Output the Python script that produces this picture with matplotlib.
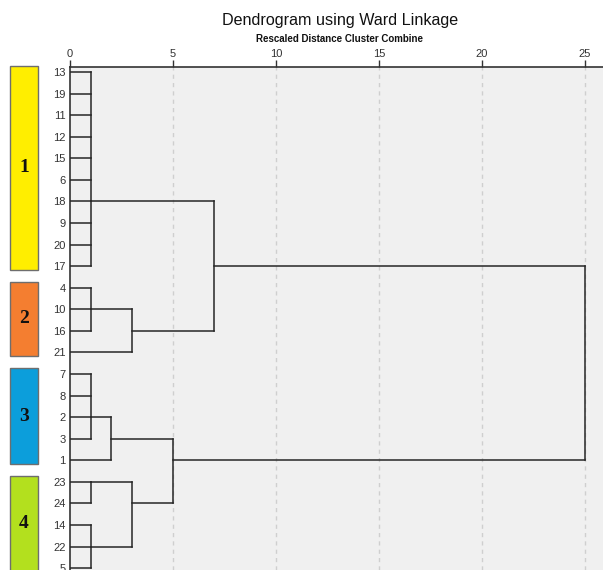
import matplotlib
matplotlib.use("Agg")
import matplotlib.pyplot as plt
from matplotlib.patches import Rectangle

plt.rcParams['font.family'] = ['Liberation Sans', 'DejaVu Sans']

# Leaf order as listed down the dendrogram
leaves = ["13", "19", "11", "12", "15", "6", "18", "9", "20", "17",
          "4", "10", "16", "21",
          "7", "8", "2", "3", "1",
          "23", "24", "14", "22", "5"]

# Agglomeration steps: members joined, rescaled distance, and the leaf row
# from which the joined cluster's line continues to the right
merge_names = ["A", "B1", "B", "AB", "C1", "C", "D1", "D2", "D", "CD", "ALL"]
merge_members = [
    ["13", "19", "11", "12", "15", "6", "18", "9", "20", "17"],
    ["4", "10", "16"],
    ["B1", "21"],
    ["A", "B"],
    ["7", "8", "2", "3"],
    ["C1", "1"],
    ["23", "24"],
    ["14", "22", "5"],
    ["D1", "D2"],
    ["C", "D"],
    ["AB", "CD"],
]
merge_dist = [1, 1, 3, 7, 1, 2, 1, 1, 3, 5, 25]
merge_anchor = ["18", "10", "16", "17", "2", "3", "23", "22", "24", "1", "17"]

# Final cluster groups shown as coloured blocks
cluster_ids = ["1", "2", "3", "4"]
cluster_first = ["13", "4", "7", "23"]
cluster_last = ["17", "21", "1", "5"]
cluster_colors = ["#FFEE00", "#F47E30", "#0C9EDB", "#B3E01E"]

x_ticks = [0, 5, 10, 15, 20, 25]

W, H = 603, 570
fig = plt.figure(figsize=(W / 100, H / 100), dpi=100)
fig.patch.set_facecolor("white")

left_px, top_px = 70, 67
ax = fig.add_axes([left_px / W, 0, 1 - left_px / W, 1 - top_px / H])
ax.set_facecolor("#F0F0F0")

row_px = 21.57
first_row_px = 72
x_scale = 20.6
ax.set_xlim(0, (W - left_px) / x_scale)
ax.set_ylim((H - first_row_px) / row_px, (top_px - first_row_px) / row_px)

row = {lab: i for i, lab in enumerate(leaves)}
pos = {lab: (row[lab], 0.0) for lab in leaves}

line_kw = dict(color="#262626", lw=1.1, solid_capstyle="projecting", zorder=3)
for name, members, dist, anchor in zip(merge_names, merge_members, merge_dist, merge_anchor):
    ys = [pos[m][0] for m in members]
    ax.plot([dist, dist], [min(ys), max(ys)], **line_kw)
    for m in members:
        y, h = pos[m]
        ax.plot([h, dist], [y, y], **line_kw)
    pos[name] = (row[anchor], dist)

# Dashed vertical guides
for t in x_ticks[1:]:
    ax.axvline(t, color="#CFCFCF", lw=1.0, ls=(0, (3, 3)), zorder=1)

ax.xaxis.tick_top()
ax.set_xticks(x_ticks)
ax.set_xticklabels([str(t) for t in x_ticks])
ax.tick_params(axis="x", direction="out", length=5, width=1, color="#333333",
               labelsize=8, labelcolor="#333333", pad=1)
ax.set_yticks(range(len(leaves)))
ax.set_yticklabels(leaves)
ax.tick_params(axis="y", length=0, labelsize=8, labelcolor="#333333", pad=3)

for s in ["right", "bottom"]:
    ax.spines[s].set_visible(False)
for s in ["top", "left"]:
    ax.spines[s].set_color("#333333")
    ax.spines[s].set_linewidth(1.2)

# Coloured cluster blocks to the left of the labels
bx0 = (10 - left_px) / x_scale
bx1 = (38 - left_px) / x_scale
for cid, f, l, c in zip(cluster_ids, cluster_first, cluster_last, cluster_colors):
    y0 = row[f] - 0.28
    y1 = row[l] + 0.18
    ax.add_patch(Rectangle((bx0, y0), bx1 - bx0, y1 - y0, facecolor=c,
                           edgecolor="#6E6E6E", lw=1.0, clip_on=False, zorder=2))
    ax.text((bx0 + bx1) / 2, (y0 + y1) / 2, cid, ha="center", va="center",
            fontsize=14, fontweight="bold", family=["Liberation Serif"],
            color="#111111", clip_on=False)

fig.text(340 / W, 1 - 21 / H, "Dendrogram using Ward Linkage", ha="center",
         va="center", fontsize=11.6, color="#111111")
fig.text(340 / W, 1 - 39 / H, "Rescaled Distance Cluster Combine", ha="center",
         va="center", fontsize=7, fontweight="bold", color="#111111")

fig.savefig("out.png", dpi=100, facecolor="white")
